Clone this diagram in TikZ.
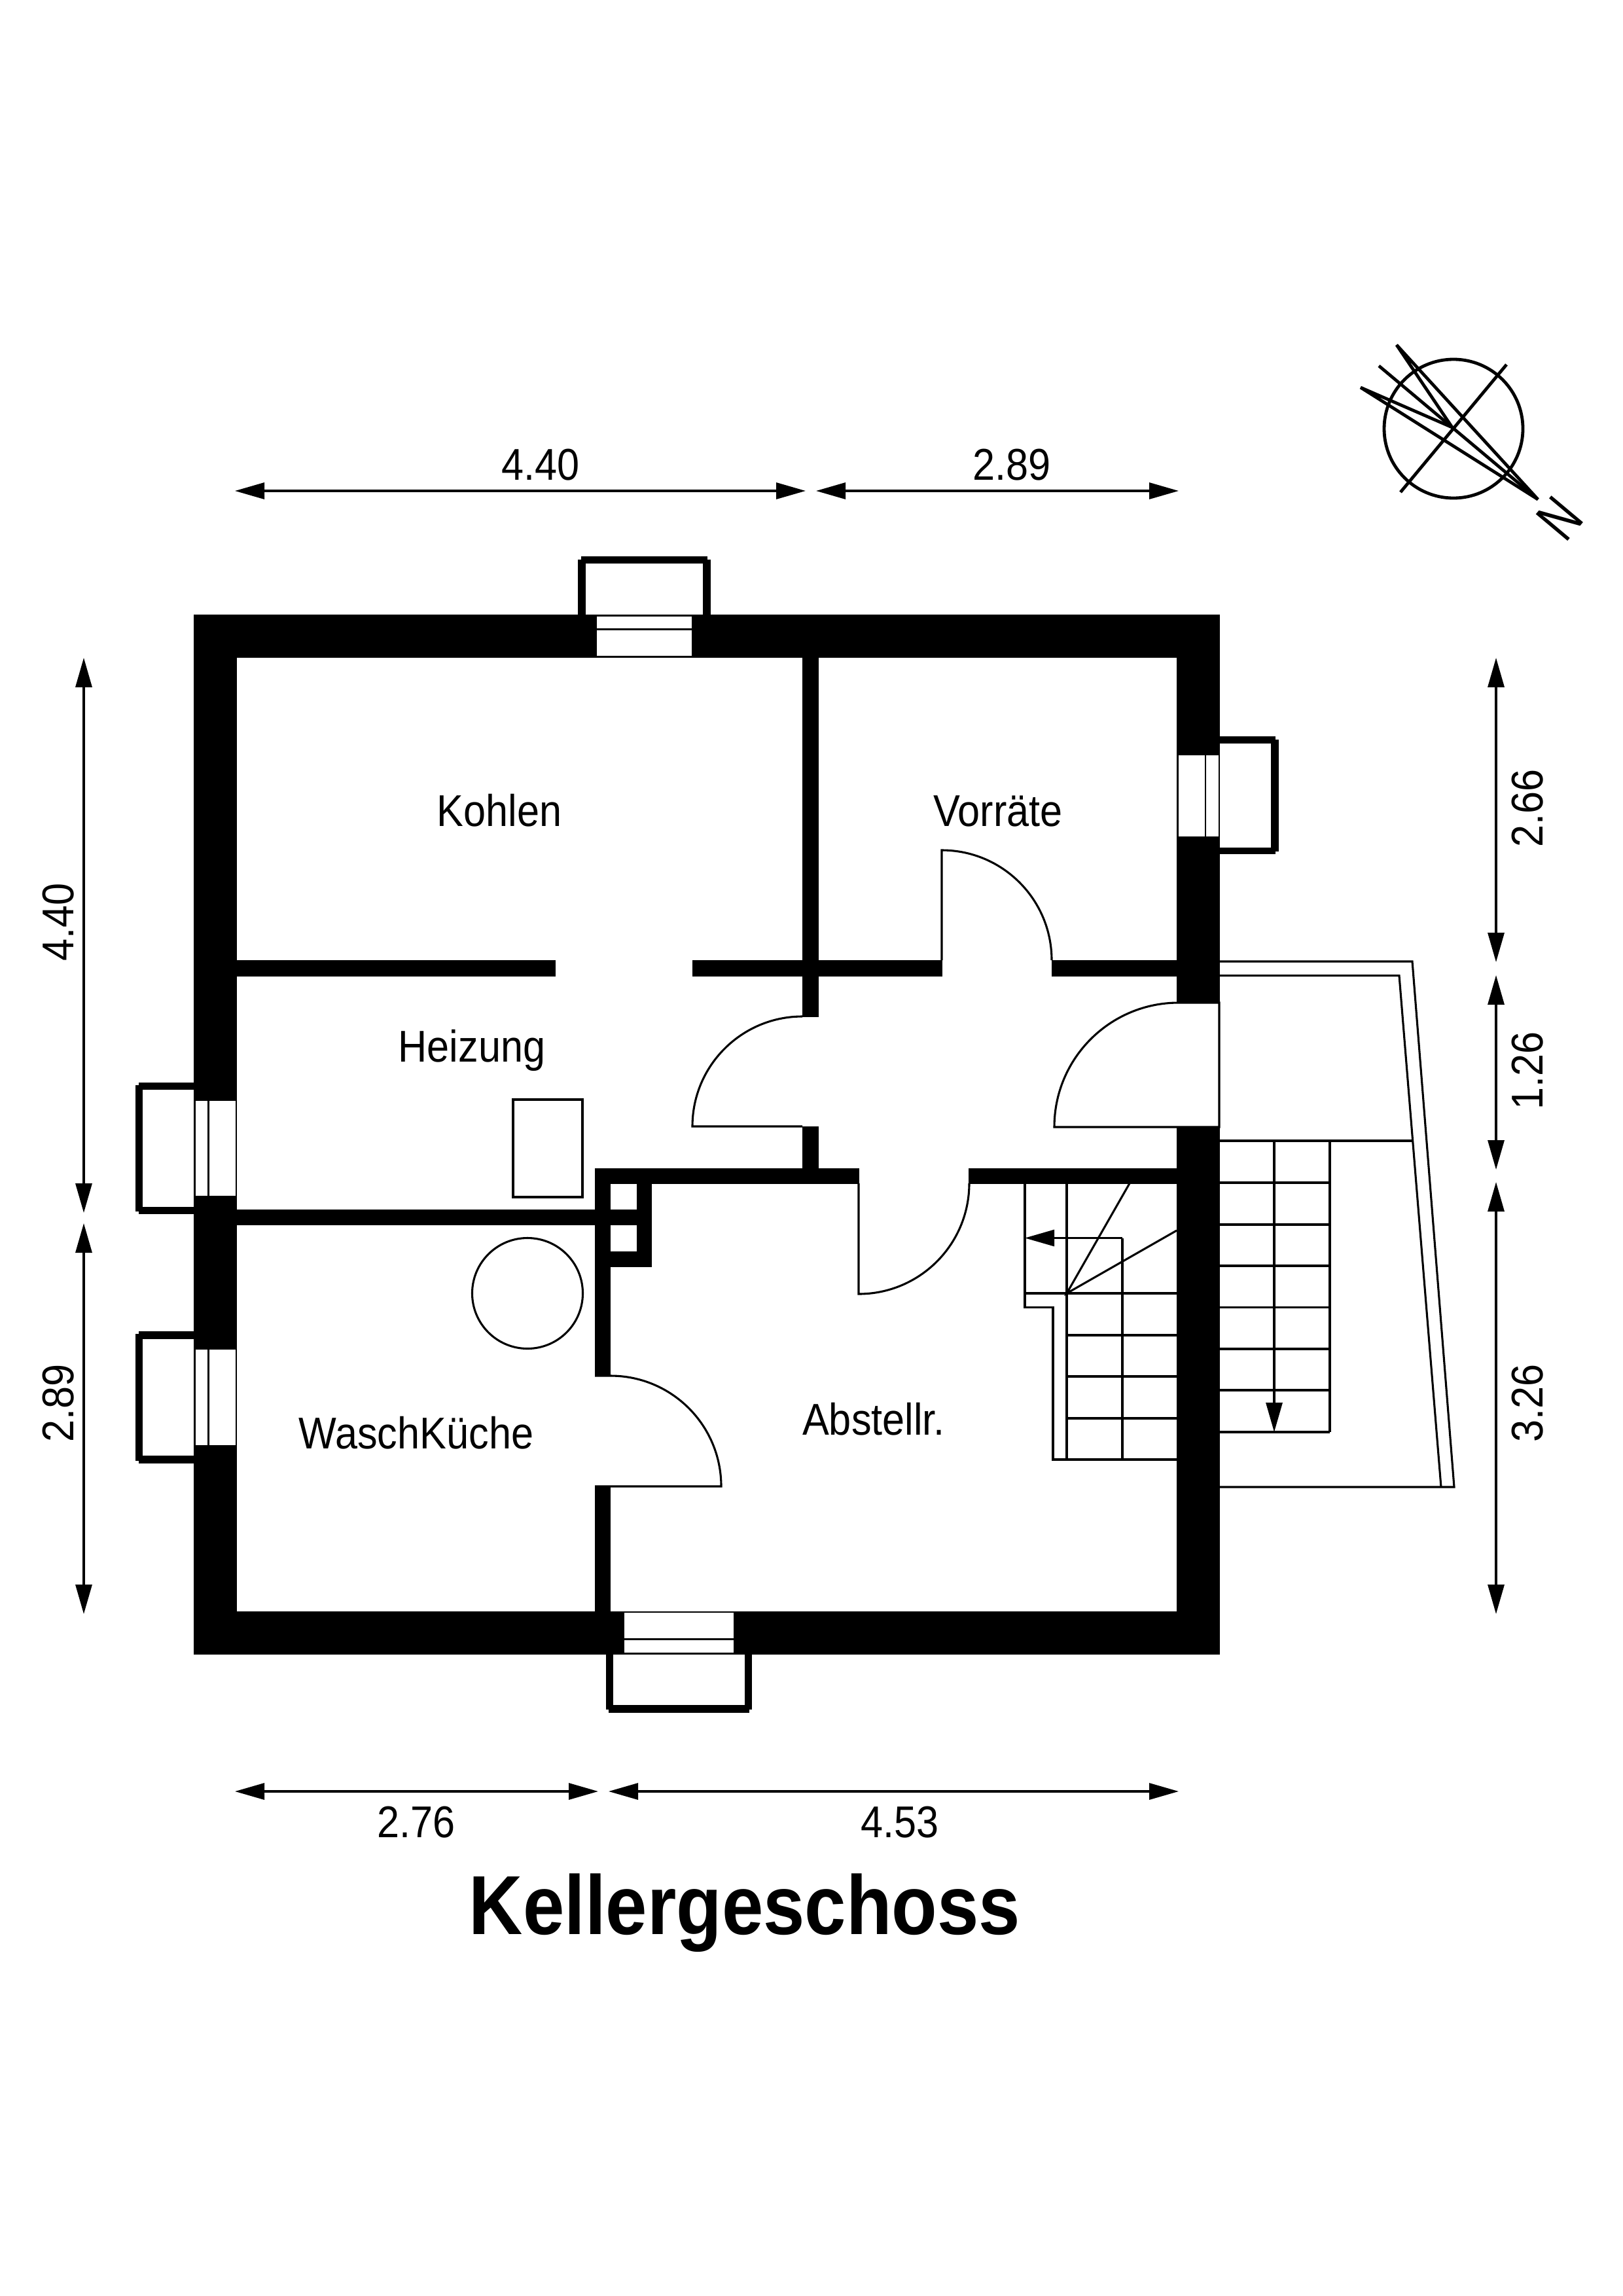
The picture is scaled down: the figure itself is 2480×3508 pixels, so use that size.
\documentclass[tikz,border=0pt]{standalone}
\usepackage{fontspec}
\usepackage{graphicx}
\setmainfont{Liberation Sans}
\usetikzlibrary{arrows.meta}
\newcommand\lab[1]{\fontsize{68}{70}\selectfont\scalebox{.90}[1]{#1}}
\tikzset{
  wall/.style={fill=black},
  pane/.style={fill=white},
  thin line/.style={draw=black,line width=3.1pt,line join=miter},
  doorline/.style={draw=black,line width=3.1pt,line join=miter,fill=none},
  dimline/.style={draw=black,line width=3.2pt,{Triangle[length=45pt,width=25pt]}-{Triangle[length=45pt,width=25pt]}},
  flowline/.style={draw=black,line width=3.1pt,-{Triangle[length=45pt,width=25pt]}},
  compass/.style={draw=black,line width=4.8pt,line join=miter},
  roomtext/.style={anchor=base,inner sep=0pt},
  dimtext/.style={anchor=base,inner sep=0pt},
}
\begin{document}
\begin{tikzpicture}[x=1pt,y=-1pt]
\useasboundingbox (0,0) rectangle (2480,3508);
\fill[white] (0,0) rectangle (2480,3508);

% outer walls
\fill[wall] (296,939) rectangle (1864,1005);
\fill[wall] (296,2462) rectangle (1864,2528);
\fill[wall] (296,939) rectangle (362,2528);
\fill[wall] (1798,939) rectangle (1864,2528);
\fill[white] (1798,1532) rectangle (1864,1722);

% inner walls
\fill[wall] (362,1467) rectangle (849,1492);
\fill[wall] (1058,1467) rectangle (1440,1492);
\fill[wall] (1607,1467) rectangle (1798,1492);
\fill[wall] (1226,1005) rectangle (1250.5,1554);
\fill[wall] (1226,1721) rectangle (1250.5,1785);
\fill[wall] (909,1785) rectangle (1313,1808.5);
\fill[wall] (1480,1785) rectangle (1798,1808.5);
\fill[wall] (909,1785) rectangle (933,2103);
\fill[wall] (909,2271) rectangle (933,2462);
\fill[wall] (362,1848) rectangle (996,1872);
\fill[wall] (909,1912) rectangle (996,1936);
\fill[wall] (973,1785) rectangle (996,1936);

% windows: top
\fill[pane] (912,942) rectangle (1057,960);
\fill[pane] (912,963) rectangle (1057,1002);
\fill[wall] (888,850) rectangle (1081,861);
\fill[wall] (883,855) rectangle (895,940);
\fill[wall] (1074,855) rectangle (1086,940);
% windows: south
\fill[pane] (954,2464) rectangle (1121,2503);
\fill[pane] (954,2506) rectangle (1121,2525);
\fill[wall] (930,2605) rectangle (1145,2617);
\fill[wall] (926,2527) rectangle (937,2612);
\fill[wall] (1138,2527) rectangle (1149,2612);
% windows: west upper
\fill[pane] (299,1682) rectangle (317,1827);
\fill[pane] (320,1682) rectangle (360,1827);
\fill[wall] (207,1658) rectangle (218,1851);
\fill[wall] (212,1654) rectangle (297,1665);
\fill[wall] (212,1844) rectangle (297,1855);
% windows: west lower
\fill[pane] (299,2062) rectangle (317,2208);
\fill[pane] (320,2062) rectangle (360,2208);
\fill[wall] (207,2038) rectangle (218,2232);
\fill[wall] (212,2034) rectangle (297,2046);
\fill[wall] (212,2224) rectangle (297,2236);
% windows: east
\fill[pane] (1800.5,1154) rectangle (1841,1278);
\fill[pane] (1843,1154) rectangle (1862,1278);
\fill[wall] (1942,1129.5) rectangle (1954,1301);
\fill[wall] (1863,1125) rectangle (1949,1136);
\fill[wall] (1863,1295) rectangle (1949,1305);

% doors
\draw[doorline] (909,2271) -- (1102,2271) arc[start angle=0,end angle=90,radius=169pt] -- (909,2102);
\draw[doorline] (1226,1721) -- (1058,1721) arc[start angle=180,end angle=90,radius=168pt] -- (1226,1553);
\draw[doorline] (1312,1808) -- (1312,1977) arc[start angle=270,end angle=360,radius=169pt];
\draw[doorline] (1863,1722) -- (1611,1722) arc[start angle=180,end angle=90,radius=190pt] -- (1863,1532) -- cycle;
\draw[doorline] (1439,1467) -- (1439,1299) arc[start angle=90,end angle=0,radius=168pt];

% furniture
\draw[thin line] (784,1680) rectangle (890,1829);
\draw[thin line] (806,1976) circle[radius=84.5pt];

% inner stairs
\draw[thin line] (1566,1808) -- (1566,1997.6) -- (1609,1997.6) -- (1609,2230) -- (1798,2230);
\draw[thin line] (1630,1808) -- (1630,2230);
\draw[thin line] (1715,2230) -- (1715,1891.5);
\draw[flowline] (1715,1891.5) -- (1566,1891.5);
\draw[thin line] (1566,1976) -- (1798,1976);
\draw[thin line] (1630,2040) -- (1798,2040);
\draw[thin line] (1630,2103) -- (1798,2103);
\draw[thin line] (1630,2167) -- (1798,2167);
\draw[thin line] (1726,1808) -- (1630,1976) -- (1798,1880);

% outer stairs
\draw[thin line] (1864,1743) -- (2159,1743);
\draw[thin line] (1864,1807) -- (2032,1807);
\draw[thin line] (1864,1871) -- (2032,1871);
\draw[thin line] (1864,1934) -- (2032,1934);
\draw[thin line] (1864,1997.6) -- (2032,1997.6);
\draw[thin line] (1864,2061) -- (2032,2061);
\draw[thin line] (1864,2124) -- (2032,2124);
\draw[thin line] (1864,2188) -- (2032,2188);
\draw[thin line] (2032,1743) -- (2032,2188);
\draw[flowline] (1947,1743) -- (1947,2188);

% stair pit walls
\draw[thin line] (1864,1469) -- (2158,1469) -- (2222,2272) -- (1864,2272);
\draw[thin line] (1864,1490.6) -- (2138,1490.6) -- (2202,2272);

% dimensions
\draw[dimline] (359,750) -- (1231,750);
\draw[dimline] (1247,750) -- (1801,750);
\draw[dimline] (359,2737) -- (914,2737);
\draw[dimline] (930,2737) -- (1801,2737);
\draw[dimline] (128,1005) -- (128,1853);
\draw[dimline] (128,1869) -- (128,2466);
\draw[dimline] (2286,1005) -- (2286,1470);
\draw[dimline] (2286,1490) -- (2286,1787);
\draw[dimline] (2286,1806) -- (2286,2466);

\node[dimtext] (d1) at (826,733) {\lab{4.40}};
\node[dimtext] (d2) at (1546,733) {\lab{2.89}};
\node[dimtext] (d3) at (636,2807) {\lab{2.76}};
\node[dimtext] (d4) at (1375,2807) {\lab{4.53}};
\node[dimtext,rotate=90] (d5) at (112,1409) {\lab{4.40}};
\node[dimtext,rotate=90] (d6) at (112,2144) {\lab{2.89}};
\node[dimtext,rotate=90] (d7) at (2357,1235) {\lab{2.66}};
\node[dimtext,rotate=90] (d8) at (2357,1636) {\lab{1.26}};
\node[dimtext,rotate=90] (d9) at (2357,2144) {\lab{3.26}};

% rooms
\node[roomtext] (r1) at (763,1262) {\lab{Kohlen}};
\node[roomtext] (r2) at (1525,1262) {\lab{Vorräte}};
\node[roomtext] (r3) at (721,1622) {\lab{Heizung}};
\node[roomtext] (r4) at (636,2213) {\lab{WaschKüche}};
\node[roomtext] (r5) at (1335,2192) {\lab{Abstellr.}};

% title
\node[anchor=base,inner sep=0pt] (title) at (1138,2955) {\fontsize{128}{130}\selectfont\bfseries\scalebox{.89}[1]{Kellergeschoss}};

% compass
\draw[compass] (2221,655) circle[radius=106pt];
\draw[compass] (2302,557) -- (2140,752);
\draw[compass,line join=bevel] (2219,653) -- (2134,527) -- (2350,763) -- (2079,592) -- cycle;
\draw[compass] (2107,559) -- (2350,763);
\node[anchor=center,inner sep=0pt,rotate=-130] (north) at (2383,792) {\fontsize{92}{92}\selectfont\scalebox{.72}[1]{N}};
\end{tikzpicture}
\end{document}
